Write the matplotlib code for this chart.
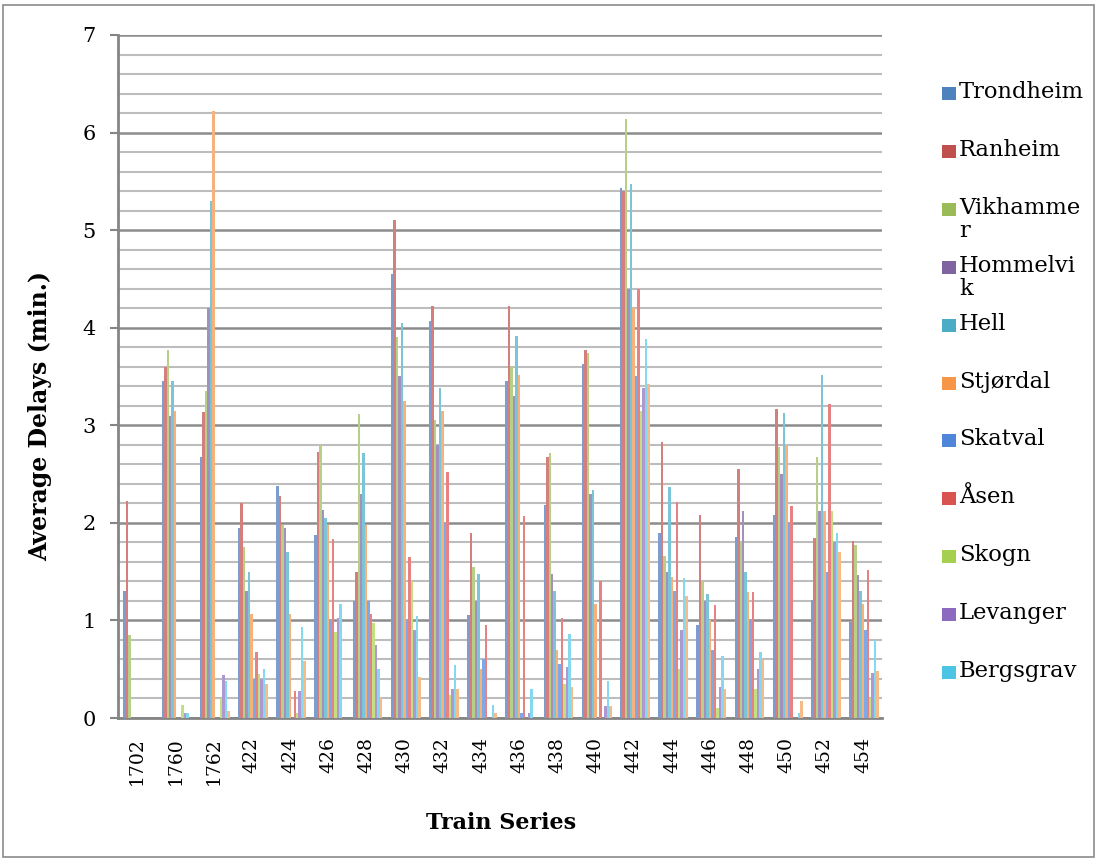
import numpy as np
import matplotlib
matplotlib.use("Agg")
import matplotlib.pyplot as plt
from matplotlib.patches import Rectangle
from matplotlib.ticker import MultipleLocator

# Train series on the x axis
train_series = ["1702", "1760", "1762", "422", "424", "426", "428", "430", "432", "434",
                "436", "438", "440", "442", "444", "446", "448", "450", "452", "454"]

# Average delays (min.) per station, one value per train series
trondheim = [1.3, 3.45, 2.67, 1.95, 2.38, 1.88, 1.2, 4.55, 4.07, 1.06, 3.45, 2.18, 3.63, 5.43, 1.9, 0.95, 1.85, 2.08, 1.21, 0.98]
ranheim = [2.22, 3.6, 3.14, 2.2, 2.28, 2.73, 1.5, 5.1, 4.22, 1.9, 4.22, 2.67, 3.77, 5.4, 2.83, 2.08, 2.55, 3.17, 1.84, 1.81]
vikhammer = [0.85, 3.77, 3.35, 1.75, 1.98, 2.8, 3.12, 3.9, 3.05, 1.55, 3.6, 2.72, 3.74, 6.14, 1.66, 1.4, 1.8, 2.78, 2.67, 1.77]
hommelvik = [0, 3.1, 4.2, 1.3, 1.95, 2.13, 2.3, 3.5, 2.8, 1.2, 3.3, 1.48, 2.3, 4.4, 1.5, 1.2, 2.12, 2.5, 2.12, 1.47]
hell = [0, 3.45, 5.3, 1.5, 1.7, 2.05, 2.72, 4.05, 3.38, 1.48, 3.92, 1.3, 2.34, 5.47, 2.37, 1.27, 1.5, 3.13, 3.52, 1.3]
stjordal = [0, 3.15, 6.22, 1.07, 1.07, 1.98, 1.98, 3.25, 3.15, 0.5, 3.52, 0.7, 1.17, 4.2, 1.45, 1.0, 1.29, 2.8, 2.12, 1.17]
skatval = [0, 0, 0, 0.4, 0, 1.0, 1.2, 1.0, 2.0, 0.6, 0.05, 0.55, 0, 3.5, 1.3, 0.7, 1.0, 2.0, 1.5, 0.9]
asen = [0, 0, 0, 0.68, 0.28, 1.83, 1.07, 1.65, 2.52, 0.95, 2.07, 1.03, 1.4, 4.4, 2.21, 1.16, 1.29, 2.17, 3.22, 1.52]
skogn = [0, 0.13, 0.2, 0.45, 0.05, 0.88, 0.97, 1.4, 0.24, 0, 0, 0.35, 0, 3.15, 0.5, 0.1, 0.3, 0, 2.12, 0.2]
levanger = [0, 0.05, 0.44, 0.4, 0.28, 1.03, 0.75, 0.9, 0.3, 0, 0.05, 0.52, 0.12, 3.38, 0.9, 0.32, 0.5, 0, 1.8, 0.46]
bergsgrav = [0, 0.05, 0.38, 0.5, 0.93, 1.17, 0.5, 1.05, 0.54, 0.13, 0.3, 0.86, 0.38, 3.88, 1.43, 0.64, 0.68, 0.05, 1.9, 0.8]
# 12th series, its legend entry is cut off in the original
verdal = [0, 0, 0.07, 0.35, 0.58, 0, 0.2, 0.42, 0.3, 0.05, 0, 0.32, 0.12, 3.42, 1.25, 0.3, 0.6, 0.17, 1.7, 0.48]

stations = ["Trondheim", "Ranheim", "Vikhamme\nr", "Hommelvi\nk", "Hell", "Stjørdal",
            "Skatval", "Åsen", "Skogn", "Levanger", "Bergsgrav"]
series = [trondheim, ranheim, vikhammer, hommelvik, hell, stjordal,
          skatval, asen, skogn, levanger, bergsgrav, verdal]
colors = ["#7d9dcf", "#d47f7c", "#b7cf86", "#a391bd", "#7cc4d8", "#f6b27a",
          "#7fa9e6", "#e68282", "#c2e082", "#ae98d2", "#84d8ef", "#f5bc8a"]
legend_colors = ["#4f81bd", "#c0504d", "#9bbb59", "#8064a2", "#4bacc6", "#f79646",
                 "#4f86d9", "#d9534f", "#a5cf4f", "#8b6ac0", "#4cc4e4"]

W, H = 1097, 866
fig = plt.figure(figsize=(W / 100, H / 100), dpi=100)
fig.patches.append(Rectangle((3 / W, 9 / H), 1091 / W, 852 / H, transform=fig.transFigure,
                             fill=False, edgecolor="#8a8a8a", linewidth=1.2))

ax = fig.add_axes([118 / W, 1 - 718 / H, (882 - 118) / W, (718 - 35) / H])

x = np.arange(len(train_series))
n = len(series)
group = 0.78
w = group / n
for k, vals in enumerate(series):
    ax.bar(x + 0.03 + (k - (n - 1) / 2) * w, vals, width=w, color=colors[k], linewidth=0, zorder=3)

ax.set_xlim(-0.5, len(train_series) - 0.5)
ax.set_ylim(0, 7)
ax.yaxis.set_major_locator(MultipleLocator(1))
ax.yaxis.set_minor_locator(MultipleLocator(0.2))
ax.grid(which="minor", axis="y", color="#bdbdbd", linewidth=1.5, zorder=0)
ax.grid(which="major", axis="y", color="#8c8c8c", linewidth=1.8, zorder=0)
ax.set_axisbelow(True)

for side in ["top", "right"]:
    ax.spines[side].set_visible(False)
ax.spines["left"].set_color("#858585")
ax.spines["left"].set_linewidth(2)
ax.spines["bottom"].set_color("#858585")
ax.spines["bottom"].set_linewidth(2)

serif = "DejaVu Serif"
ax.set_xticks(x)
ax.set_xticklabels(train_series, rotation=90, fontsize=13.5, family=serif)
ax.tick_params(axis="x", length=0, pad=14)
ax.tick_params(axis="y", which="major", length=6, width=1.5, color="#858585",
               labelsize=15, pad=10)
ax.tick_params(axis="y", which="minor", length=0)
for lab in ax.get_yticklabels():
    lab.set_family(serif)

fig.text(40 / W, 1 - 416 / H, "Average Delays (min.)", rotation=90, ha="center", va="center",
         fontsize=17, fontweight="bold", family=serif)
fig.text(501 / W, 1 - 823 / H, "Train Series", ha="center", va="center",
         fontsize=16, fontweight="bold", family=serif)

# legend, fixed slot height like the original (wrapped names overflow)
for i, name in enumerate(stations):
    yc = 93 + 57.9 * i
    fig.patches.append(Rectangle((942 / W, 1 - (yc + 7) / H), 14 / W, 13 / H,
                                 transform=fig.transFigure, facecolor=legend_colors[i],
                                 edgecolor="none"))
    fig.text(959 / W, 1 - (yc - 12) / H, name, ha="left", va="top", fontsize=16.3,
             family=serif, linespacing=1.05)

fig.savefig("out.png", dpi=100)
